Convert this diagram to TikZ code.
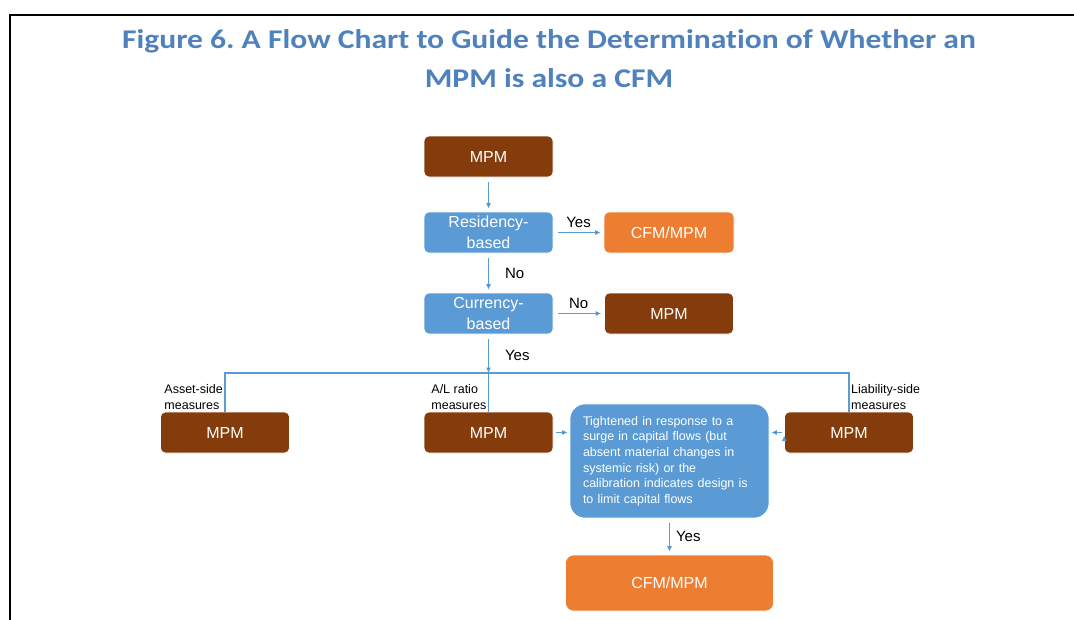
\documentclass[tikz,border=0pt]{standalone}
\usepackage{fontspec}
\setmainfont{Liberation Sans}
\newfontfamily\titlefont[Ligatures=CommonOff]{Carlito}
\usetikzlibrary{arrows.meta, positioning, calc}
\definecolor{mpmbrown}{HTML}{843C0C}
\definecolor{decblue}{HTML}{5B9BD5}
\definecolor{cfmorange}{HTML}{ED7D31}
\definecolor{titleblue}{HTML}{4F81BD}
\frenchspacing

\begin{document}
\begin{tikzpicture}[x=1pt, y=1pt, node distance=80pt, on grid,
    box/.style={rounded corners=5pt, minimum width=129pt, minimum height=41pt, inner sep=0pt,
        text=white, align=center, font=\fontsize{16}{20.5}\selectfont, draw=white, line width=0.6pt},
    mpmbox/.style={box, fill=mpmbrown},
    decbox/.style={box, fill=decblue},
    cfmbox/.style={box, fill=cfmorange, minimum width=130pt},
    tightbox/.style={box, fill=decblue, minimum width=199pt, minimum height=114pt, rounded corners=15pt,
        text width=173pt, align=left, font=\fontsize{12.5}{15.6}\selectfont},
    arr/.style={-{Latex[length=5.5pt,width=5pt]}, draw=decblue, line width=1.2pt, shorten <=5pt, shorten >=3pt},
    link/.style={draw=decblue, line width=1.2pt},
    lbl/.style={font=\fontsize{15}{18}\selectfont, inner sep=2pt},
    side/.style={font=\fontsize{12.5}{16}\selectfont, inner sep=2pt, align=left}]
\useasboundingbox (0,0) rectangle (1074,-619);
\draw[line width=2pt] (10,-620) |- (1075,-15);
\node[font=\titlefont\bfseries\fontsize{27}{39}\selectfont, text=titleblue, align=center,
    transform shape, xscale=1.17] (title) at (549,-59)
    {Figure 6. A Flow Chart to Guide the Determination of Whether an\\MPM is also a CFM};

% main column
\node[mpmbox] (mpm) at (488.5,-156.5) {MPM};
\node[decbox] (res) [below=76pt of mpm] {Residency-\\based};
\node[cfmbox] (cfmres) [right=180.5pt of res] {CFM/MPM};
\node[decbox] (cur) [below=81pt of res] {Currency-\\based};
\node[mpmbox] (mpmcur) [right=180.5pt of cur] {MPM};
\coordinate[below=59.5pt of cur] (split);

% measures
\node[mpmbox] (mpmal) [below=119pt of cur] {MPM};
\node[mpmbox] (mpmasset) [left=263.5pt of mpmal] {MPM};
\node[mpmbox] (mpmliab) [right=360.5pt of mpmal] {MPM};
\node[tightbox] (tight) [below right=28.5pt and 181pt of mpmal]
    {Tightened in response to a\\surge in capital flows (but\\absent material changes in\\systemic risk) or the\\calibration indicates design is\\to limit capital flows};
\node[cfmbox, minimum width=208pt, minimum height=56pt, rounded corners=8pt] (cfmtight) [below=122pt of tight] {CFM/MPM};

\node[side, anchor=south east] (lblasset) at (mpmasset.north) {Asset-side\\measures};
\node[side, anchor=south east] (lblal) at (mpmal.north) {A/L ratio\\measures};
\node[side, anchor=south west] (lblliab) at (mpmliab.north) {Liability-side\\measures};

\draw[link] (mpmasset.north) |- (split) -| (mpmliab.north);
\draw[link] (mpmal.north) -- (mpmal.north |- split);

\path[arr]
    (mpm) edge (res)
    (res) edge node[lbl, above=2pt] {Yes} (cfmres)
          edge node[lbl, right=14pt] {No} (cur)
    (cur) edge node[lbl, above=2pt] {No} (mpmcur)
          edge[shorten >=0pt] node[lbl, right=14pt, pos=0.55] {Yes} (split)
    (mpmal.east) edge[shorten <=3pt, shorten >=2pt] (mpmal.east -| tight.west)
    (mpmliab.west) edge[shorten <=2pt, shorten >=2pt] (mpmliab.west -| tight.east)
    (tight) edge node[lbl, right=4pt] {Yes} (cfmtight);
\end{tikzpicture}
\end{document}
